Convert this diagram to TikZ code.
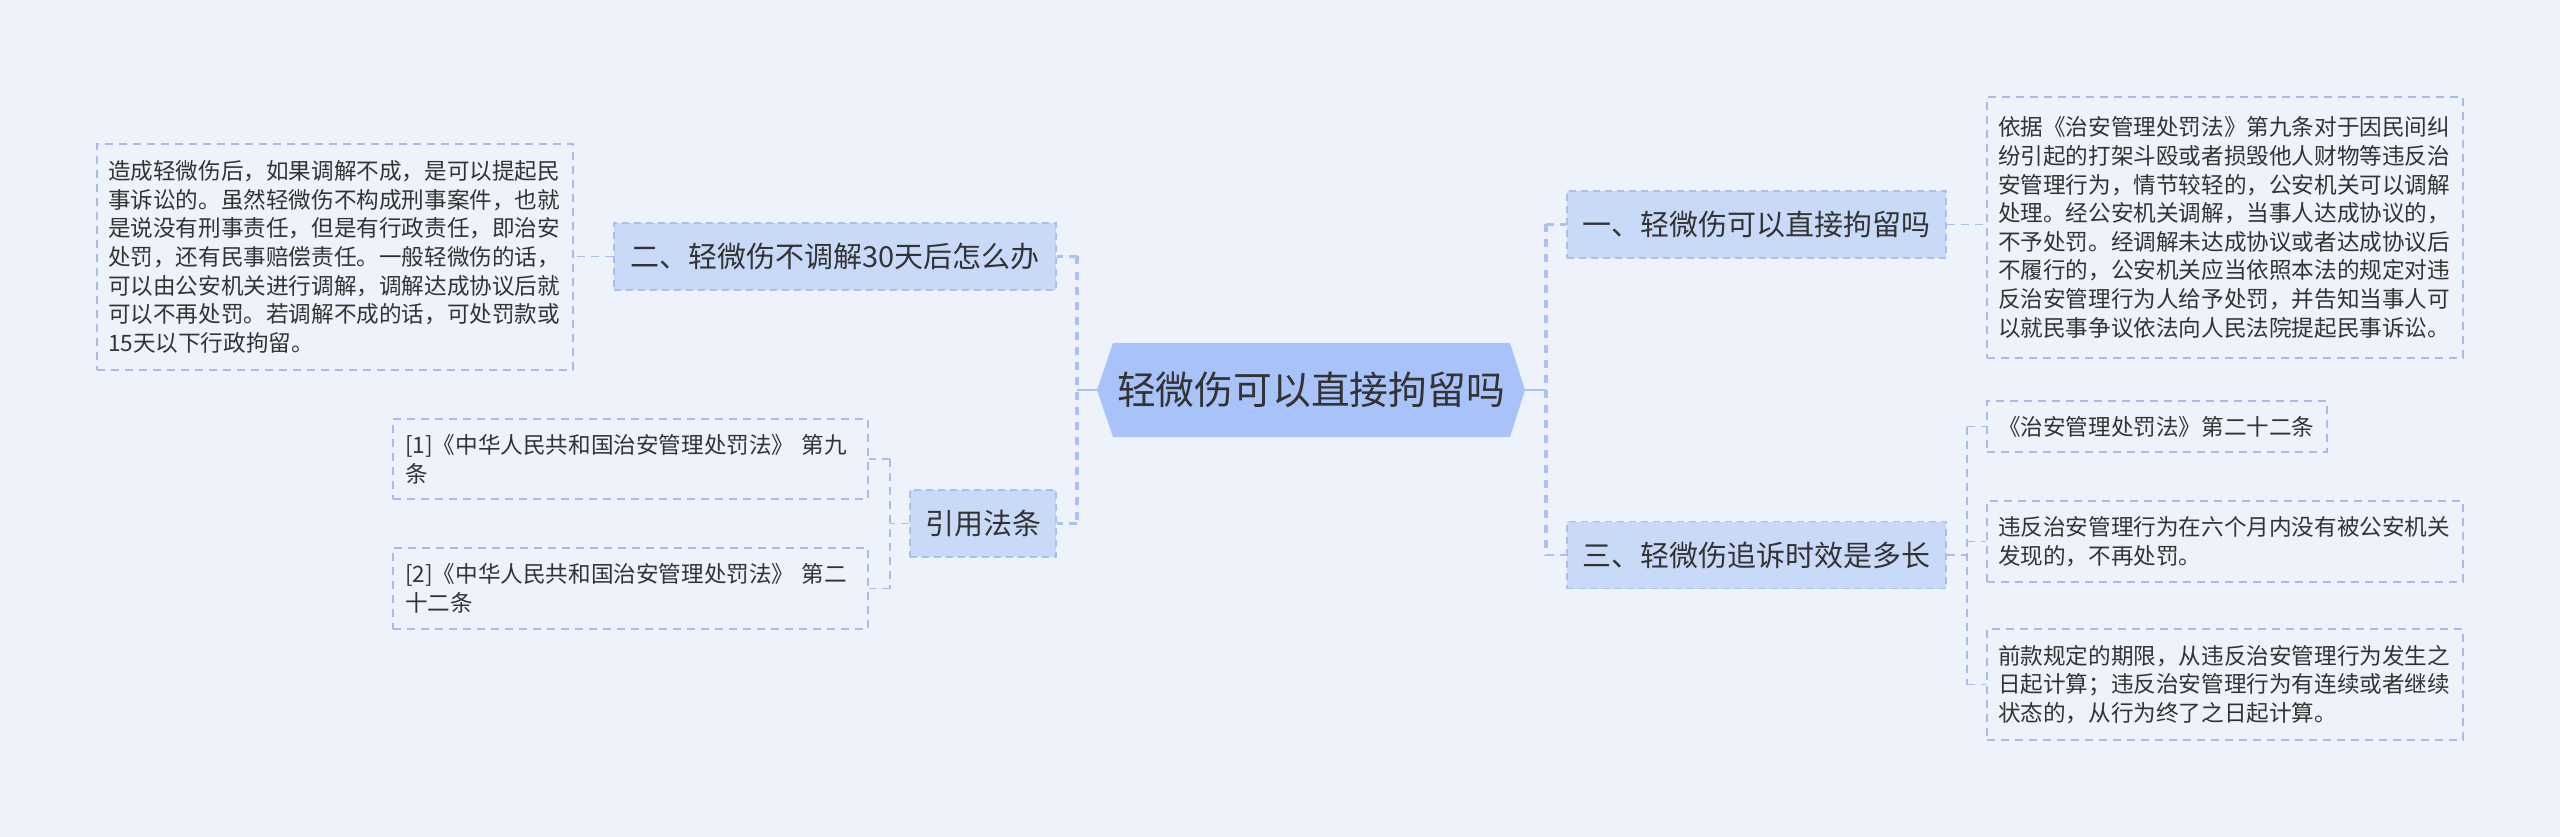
\documentclass[tikz,border=0pt]{standalone}
\usepackage{fontspec}
\setmainfont{Noto Sans CJK SC}
\usetikzlibrary{calc}
\definecolor{bgc}{HTML}{EEF3FB}
\definecolor{centerfill}{HTML}{A8C2FA}
\definecolor{lonefill}{HTML}{C9DAF9}
\definecolor{loneborder}{HTML}{A9BFEF}
\definecolor{leafborder}{HTML}{A9BCE6}
\definecolor{mainc}{HTML}{A9C2F4}
\definecolor{thinc}{HTML}{A9BDE9}
\definecolor{textc}{HTML}{333333}
\tikzset{
  centernode/.style={inner sep=0pt, minimum width=428pt, minimum height=94pt, text=textc, font=\fontsize{38.8}{46}\selectfont},
  lone/.style={draw=loneborder, fill=lonefill, dash pattern=on 7pt off 5pt, line width=1.5pt, inner sep=0pt, minimum height=67pt, text=textc, font=\fontsize{29}{34}\selectfont},
  leaf/.style={draw=leafborder, dash pattern=on 8pt off 6pt, line width=1.3pt, inner sep=0pt, align=left, text=textc, font=\fontsize{22.6}{28.6}\selectfont},
  trunk/.style={draw=mainc, line width=4pt, dash pattern=on 8pt off 7pt},
  mainline/.style={draw=mainc, line width=2.5pt},
  thinline/.style={draw=thinc, line width=1.5pt, dash pattern=on 8pt off 6pt},
}
\begin{document}
\begin{tikzpicture}[x=1pt,y=-1pt]
\useasboundingbox (0,0) rectangle (2560,837);
\fill[bgc] (0,0) rectangle (2560,837);

% center hexagon
\fill[centerfill] (1097,390) -- (1113,343) -- (1510,343) -- (1525,390) -- (1510,437) -- (1113,437) -- cycle;
\node[centernode] (c) at (1311,390) {轻微伤可以直接拘留吗};

% level one nodes
\node[lone, minimum width=379pt] (n1) at (1756.5,224.5) {一、轻微伤可以直接拘留吗};
\node[lone, minimum width=379pt] (n3) at (1756.5,555) {三、轻微伤追诉时效是多长};
\node[lone, minimum width=442pt] (n2) at (835,256.5) {二、轻微伤不调解30天后怎么办};
\node[lone, minimum width=146pt] (q) at (983,523.5) {引用法条};

% leaves
\node[leaf, minimum width=476pt, minimum height=226pt, text width=454pt] (tl) at (335,257) {造成轻微伤后，如果调解不成，是可以提起民\\
事诉讼的。虽然轻微伤不构成刑事案件，也就\\
是说没有刑事责任，但是有行政责任，即治安\\
处罚，还有民事赔偿责任。一般轻微伤的话，\\
可以由公安机关进行调解，调解达成协议后就\\
可以不再处罚。若调解不成的话，可处罚款或\\
15天以下行政拘留。};

\node[leaf, minimum width=476pt, minimum height=261pt, text width=454pt] (tr) at (2225,227.5) {依据《治安管理处罚法》第九条对于因民间纠\\
纷引起的打架斗殴或者损毁他人财物等违反治\\
安管理行为，情节较轻的，公安机关可以调解\\
处理。经公安机关调解，当事人达成协议的，\\
不予处罚。经调解未达成协议或者达成协议后\\
不履行的，公安机关应当依照本法的规定对违\\
反治安管理行为人给予处罚，并告知当事人可\\
以就民事争议依法向人民法院提起民事诉讼。};

\node[leaf, minimum width=340pt, minimum height=51pt, text width=318pt] (r1) at (2157,426.5) {《治安管理处罚法》第二十二条};
\node[leaf, minimum width=476pt, minimum height=81pt, text width=454pt] (r2) at (2225,541.5) {违反治安管理行为在六个月内没有被公安机关\\
发现的，不再处罚。};
\node[leaf, minimum width=476pt, minimum height=111pt, text width=454pt] (r3) at (2225,684.5) {前款规定的期限，从违反治安管理行为发生之\\
日起计算；违反治安管理行为有连续或者继续\\
状态的，从行为终了之日起计算。};

\node[leaf, minimum width=475pt, minimum height=80pt, text width=451pt] (c1) at (630.5,459) {[1]《中华人民共和国治安管理处罚法》 第九\\ 条};
\node[leaf, minimum width=475pt, minimum height=81pt, text width=451pt] (c2) at (630.5,588.5) {[2]《中华人民共和国治安管理处罚法》 第二\\ 十二条};

% connector junctions
\coordinate (lj) at (1077,390);
\coordinate (rj) at (1546,390);
\coordinate (qj) at (890,523.5);
\coordinate (sj) at (1967,555);

% main connectors
\draw[mainline] (c.west) -- (lj);
\draw[mainline] (c.east) -- (rj);
\draw[trunk] (lj |- n2.east) -- (lj |- q.east);
\draw[trunk] (rj |- n1.west) -- (rj |- n3.west);
\draw[mainline, dash pattern=on 8pt off 6pt] (lj |- n2.east) -- (n2.east);
\draw[mainline, dash pattern=on 8pt off 6pt] (lj |- q.east) -- (q.east);
\draw[mainline, dash pattern=on 8pt off 6pt] (rj |- n1.west) -- (n1.west);
\draw[mainline, dash pattern=on 8pt off 6pt] (rj |- n3.west) -- (n3.west);

% secondary connectors
\draw[thinline] (n2.west) -- (tl.east |- n2.west);
\draw[thinline] (n1.east) -- (tr.west |- n1.east);
\draw[thinline] (q.west) -- (qj);
\draw[thinline] (qj |- c1.east) -- (qj |- c2.east);
\draw[thinline] (qj |- c1.east) -- (c1.east);
\draw[thinline] (qj |- c2.east) -- (c2.east);
\draw[thinline] (n3.east) -- (sj);
\draw[thinline] (sj |- r1.west) -- (sj |- r3.west);
\draw[thinline] (sj |- r1.west) -- (r1.west);
\draw[thinline] (sj |- r2.west) -- (r2.west);
\draw[thinline] (sj |- r3.west) -- (r3.west);
\end{tikzpicture}
\end{document}
